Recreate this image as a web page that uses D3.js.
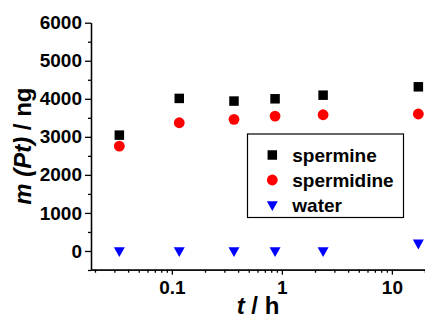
<!DOCTYPE html>
<html>
<head>
<meta charset="utf-8">
<script src="https://cdn.jsdelivr.net/npm/d3@7"></script>
<style>
  body { margin: 0; background: #fff; }
  svg text { font-family: "Liberation Sans", Arial, sans-serif; font-weight: bold; fill: #000; }
  .axis path, .axis line { stroke: #000; stroke-width: 1.3; }
</style>
</head>
<body>
<div id="chart"></div>
<script>
// data
const times = [0.0333, 0.1167, 0.367, 0.867, 2.37, 17.4];   // t / h
const spermine = [3045, 4010, 3940, 4000, 4095, 4315];
const spermidine = [2755, 3370, 3460, 3545, 3580, 3600];
const water = [0, 0, 0, 0, 0, 200];
const xMajor = [0.1, 1, 10];
const yMajor = [0, 1000, 2000, 3000, 4000, 5000, 6000];
const legendNames = ["spermine", "spermidine", "water"];

const WIDTH = 425, HEIGHT = 322;
const margin = { top: 22.7, right: 0, bottom: 52.3, left: 91 };

const svg = d3.select("#chart").append("svg")
  .attr("width", WIDTH).attr("height", HEIGHT);

const x = d3.scaleLog().domain([0.0184, 20]).range([margin.left, WIDTH]);
const y = d3.scaleLinear().domain([-500, 6000]).range([HEIGHT - margin.bottom + 0.3, margin.top]);

// minor ticks
const xMinor = [];
for (let e = -2; e <= 1; e++) for (let k = 2; k <= 9; k++) {
  const v = k * Math.pow(10, e);
  if (v >= 0.0184 && v <= 20) xMinor.push(v);
}
xMinor.push(20);
const yMinor = d3.range(-500, 6000, 1000);

const bottomY = HEIGHT - margin.bottom;

svg.append("g").attr("class", "axis")
  .attr("transform", `translate(0,${bottomY})`)
  .call(d3.axisBottom(x).tickValues(xMinor).tickFormat("").tickSize(3).tickSizeOuter(0));
svg.append("g").attr("class", "axis")
  .attr("transform", `translate(0,${bottomY})`)
  .call(d3.axisBottom(x).tickValues(xMajor).tickFormat(d3.format("")).tickSize(5).tickSizeOuter(0).tickPadding(6))
  .selectAll("text").style("font-size", "19px");

svg.append("g").attr("class", "axis")
  .attr("transform", `translate(${margin.left},0)`)
  .call(d3.axisLeft(y).tickValues(yMinor).tickFormat("").tickSize(3).tickSizeOuter(0));
svg.append("g").attr("class", "axis")
  .attr("transform", `translate(${margin.left},0)`)
  .call(d3.axisLeft(y).tickValues(yMajor).tickFormat(d3.format("")).tickSize(6).tickSizeOuter(0).tickPadding(3))
  .selectAll("text").style("font-size", "19px");

svg.selectAll(".axis .domain").attr("stroke-width", 1.5);

// markers
const square = s => `M${-s/2},${-s/2}h${s}v${s}h${-s}Z`;
const triDown = s => `M${-s/2},${-s*0.35}L${s/2},${-s*0.35}L0,${s*0.55}Z`;

const marks = svg.append("g");
marks.selectAll(".sq").data(times).enter().append("path")
  .attr("transform", (d, i) => `translate(${x(d)},${y(spermine[i])})`)
  .attr("d", square(9.5)).attr("fill", "#000");
marks.selectAll(".ci").data(times).enter().append("circle")
  .attr("cx", d => x(d)).attr("cy", (d, i) => y(spermidine[i]))
  .attr("r", 5.4).attr("fill", "#ff0000");
marks.selectAll(".tr").data(times).enter().append("path")
  .attr("transform", (d, i) => `translate(${x(d)},${y(water[i])})`)
  .attr("d", triDown(11)).attr("fill", "#0000ff");

// legend
const lg = svg.append("g");
lg.append("rect").attr("x", 247.5).attr("y", 134).attr("width", 156).attr("height", 83.5)
  .attr("fill", "#fff").attr("stroke", "#000").attr("stroke-width", 1.2);
const rows = [155, 180, 205];
lg.append("path").attr("transform", `translate(272.3,${rows[0]})`).attr("d", square(9.5)).attr("fill", "#000");
lg.append("circle").attr("cx", 272.3).attr("cy", rows[1]).attr("r", 5.4).attr("fill", "#ff0000");
lg.append("path").attr("transform", `translate(272.3,${rows[2]})`).attr("d", triDown(11)).attr("fill", "#0000ff");
lg.selectAll("text.lt").data(legendNames).enter().append("text")
  .attr("x", 292.3).attr("y", (d, i) => rows[i]).attr("dy", "0.35em")
  .style("font-size", "19px").text(d => d);

// axis titles
const xt = svg.append("text").attr("x", (margin.left + WIDTH) / 2).attr("y", 314)
  .attr("text-anchor", "middle").style("font-size", "24px");
xt.append("tspan").style("font-style", "italic").text("t");
xt.append("tspan").text(" / h");

const yt = svg.append("text")
  .attr("transform", `translate(31,${(margin.top + bottomY) / 2}) rotate(-90)`)
  .attr("text-anchor", "middle").style("font-size", "24px");
yt.append("tspan").style("font-style", "italic").text("m (Pt)");
yt.append("tspan").text(" / ng");
</script>
</body>
</html>
